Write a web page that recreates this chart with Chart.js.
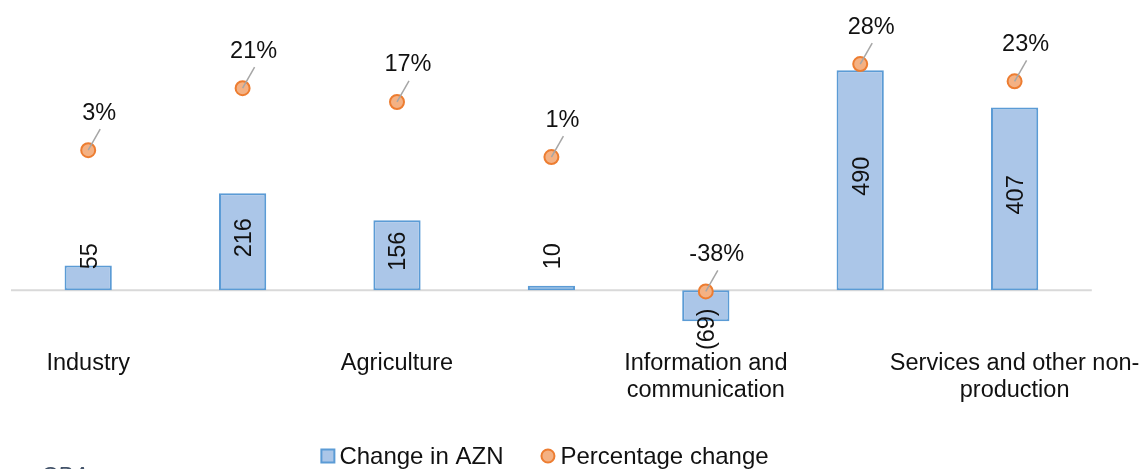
<!DOCTYPE html>
<html>
<head>
<meta charset="utf-8">
<script src="https://cdn.jsdelivr.net/npm/chart.js@4.4.0/dist/chart.umd.min.js"></script>
<style>
  html, body { margin: 0; padding: 0; background: #fff; }
  #wrap { width: 1142px; height: 469px; position: relative; }
</style>
</head>
<body>
<div id="wrap"><canvas id="grafico"></canvas></div>
<script>
// dados do grafico
const categorias = [
    'Industry',
    'Construction',
    'Agriculture',
    'Transport and storage',
    ['Information and', 'communication'],
    'Trade',
    ['Services and other non-', 'production']
];
const mudancaAZN = [55, 216, 156, 10, -69, 490, 407];
const mudancaPct = [3, 21, 17, 1, -38, 28, 23];
const nomeSeries = ['Change in AZN', 'Percentage change'];
const fonte = 'Source: CBA';

const FONTE_TXT = '"Liberation Sans", Arial, sans-serif';
const COR_BARRA = '#abc6e8', COR_BORDA = '#5b9bd5';
const COR_PONTO = '#f4b183', COR_PONTO_BORDA = '#ed7d31';

function fmtValor(v) {
    return v < 0 ? '(' + Math.abs(v) + ')' : String(v);
}

// linha do zero, rotulos, legenda feita na mao e a fonte
const rotulos = {
    id: 'rotulos',
    beforeDatasetsDraw(chart) {
        const { ctx, chartArea, scales } = chart;
        const y0 = scales.y.getPixelForValue(0);
        ctx.save();
        ctx.strokeStyle = '#d9d9d9';
        ctx.lineWidth = 2;
        ctx.beginPath();
        ctx.moveTo(chartArea.left, y0);
        ctx.lineTo(chartArea.right, y0);
        ctx.stroke();
        ctx.restore();
    },
    afterDatasetsDraw(chart) {
        const { ctx, scales } = chart;
        const y0 = scales.y.getPixelForValue(0);
        ctx.save();
        ctx.font = '23.5px ' + FONTE_TXT;
        ctx.fillStyle = '#111';
        ctx.textAlign = 'center';
        ctx.textBaseline = 'middle';

        // valores das barras, girados
        chart.getDatasetMeta(1).data.forEach((bar, i) => {
            const v = mudancaAZN[i];
            const alto = Math.abs(bar.base - bar.y);
            let cy = (bar.y + bar.base) / 2 - 4;
            if (alto < 60) cy = v >= 0 ? y0 - 34 : y0 + 39;
            ctx.save();
            ctx.translate(bar.x, cy);
            ctx.rotate(-Math.PI / 2);
            ctx.fillText(fmtValor(v), 0, 2);
            ctx.restore();
        });

        // porcentagens com linha guia
        chart.getDatasetMeta(0).data.forEach((pt, i) => {
            const lx = pt.x + 11;
            const ly = pt.y - 37;
            ctx.strokeStyle = '#a6a6a6';
            ctx.lineWidth = 1.5;
            ctx.beginPath();
            ctx.moveTo(lx + 1, ly + 16);
            ctx.lineTo(pt.x, pt.y);
            ctx.stroke();
            ctx.fillText(mudancaPct[i] + '%', lx, ly);
        });
        ctx.restore();
    },
    afterDraw(chart) {
        const { ctx } = chart;
        ctx.save();

        // legenda
        ctx.font = '24px ' + FONTE_TXT;
        ctx.textBaseline = 'middle';
        ctx.fillStyle = '#111';
        const ly = 456;
        const w0 = ctx.measureText(nomeSeries[0]).width;
        const w1 = ctx.measureText(nomeSeries[1]).width;
        const total = 13 + 5 + w0 + 38 + 13 + 6 + w1;
        let x = 545 - total / 2;
        ctx.fillStyle = COR_BARRA;
        ctx.strokeStyle = COR_BORDA;
        ctx.lineWidth = 2;
        ctx.fillRect(x, ly - 6.5, 13, 13);
        ctx.strokeRect(x, ly - 6.5, 13, 13);
        x += 18;
        ctx.fillStyle = '#111';
        ctx.fillText(nomeSeries[0], x, ly + 1);
        x += w0 + 38;
        ctx.beginPath();
        ctx.arc(x + 6.5, ly, 6.5, 0, Math.PI * 2);
        ctx.fillStyle = COR_PONTO;
        ctx.fill();
        ctx.strokeStyle = COR_PONTO_BORDA;
        ctx.stroke();
        x += 19;
        ctx.fillStyle = '#111';
        ctx.fillText(nomeSeries[1], x, ly + 1);

        // fonte, cortada embaixo
        ctx.font = 'italic 23.5px ' + FONTE_TXT;
        ctx.fillStyle = '#44546a';
        ctx.textBaseline = 'alphabetic';
        const w = ctx.measureText('Source: ').width;
        ctx.fillText(fonte, 40 - w, 484);
        ctx.restore();
    }
};

new Chart(document.getElementById('grafico'), {
    data: {
        labels: categorias,
        datasets: [
            {
                type: 'line',
                label: nomeSeries[1],
                data: mudancaPct,
                yAxisID: 'y1',
                showLine: false,
                pointRadius: 7,
                pointBackgroundColor: COR_PONTO,
                pointBorderColor: COR_PONTO_BORDA,
                pointBorderWidth: 2,
                order: 0
            },
            {
                type: 'bar',
                label: nomeSeries[0],
                data: mudancaAZN,
                yAxisID: 'y',
                backgroundColor: COR_BARRA,
                borderColor: COR_BORDA,
                borderWidth: 2,
                borderSkipped: false,
                barPercentage: 0.6,
                categoryPercentage: 0.51,
                order: 1
            }
        ]
    },
    options: {
        responsive: true,
        maintainAspectRatio: false,
        animation: false,
        layout: { padding: { top: 10, left: 11, right: 0, bottom: 63 } },
        scales: {
            x: {
                grid: { display: false, drawTicks: false },
                border: { display: false },
                ticks: {
                    autoSkip: false,
                    maxRotation: 0,
                    padding: 2,
                    color: '#111',
                    font: { family: FONTE_TXT, size: 23.5, lineHeight: 1.15 },
                    callback: function (val, idx) {
                        return idx % 2 ? '' : this.getLabelForValue(val);
                    }
                }
            },
            y: { display: false, min: -128.6, max: 624.2 },
            y1: { display: false, position: 'right', min: -54.4, max: 43.7 }
        },
        plugins: {
            tooltip: { enabled: false },
            legend: { display: false }
        }
    },
    plugins: [rotulos]
});
</script>
</body>
</html>
